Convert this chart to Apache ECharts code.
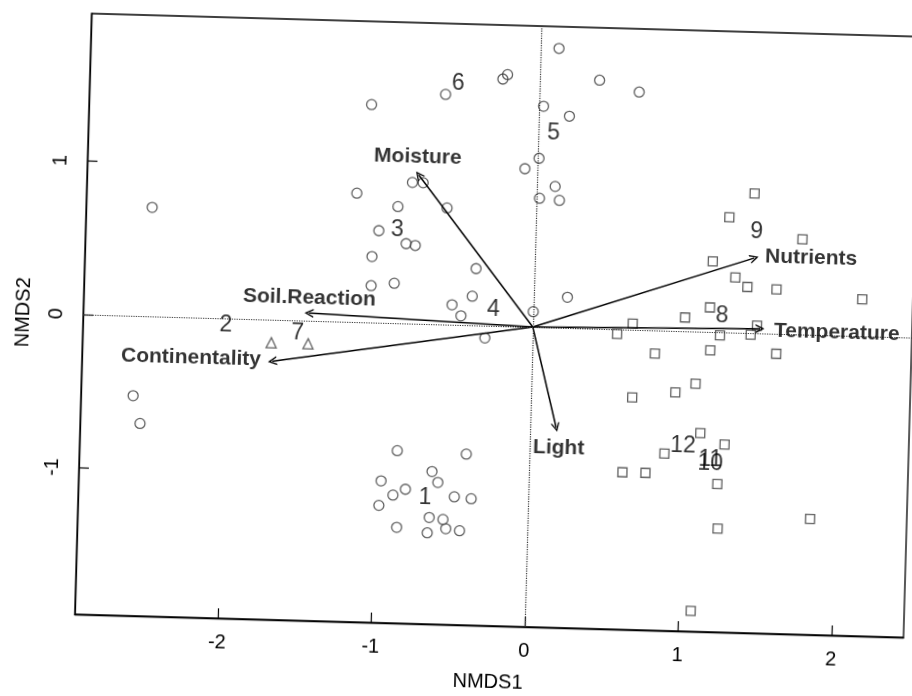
<!DOCTYPE html>
<html>
<head>
<meta charset="utf-8">
<script src="https://cdn.jsdelivr.net/npm/echarts@6/dist/echarts.min.js"></script>
<style>
  html, body { margin: 0; padding: 0; background: #fff; overflow: hidden; width: 912px; height: 696px; }
  #chart { position: absolute; left: 0; top: 0; width: 930px; height: 720px;
           transform-origin: 533px 327px; transform: rotate(1.6deg); }
</style>
</head>
<body>
<div id="chart"></div>
<script>
// ---- axis ticks ----
const xTicks = [-2, -1, 0, 1, 2];
const yTicks = [-1, 0, 1];

// ---- site scores (NMDS1, NMDS2) ----
const circleSites = [
  [0.12, 1.82], [-0.24, 1.61], [-0.21, 1.64], [0.39, 1.62], [0.65, 1.55], [-0.61, 1.50],
  [-1.09, 1.42], [0.03, 1.44], [0.20, 1.38], [0.01, 1.10], [-0.08, 1.03], [0.12, 0.92],
  [0.02, 0.84], [0.15, 0.83], [-1.17, 0.84], [-0.81, 0.92], [-0.74, 0.92], [-0.58, 0.76],
  [-0.90, 0.76], [-1.02, 0.60], [-0.84, 0.52], [-0.78, 0.51], [-1.06, 0.43], [-1.06, 0.24],
  [-0.91, 0.26], [-0.38, 0.37], [0.22, 0.20], [-0.40, 0.19], [-0.53, 0.13], [-0.47, 0.06],
  [-0.31, -0.08], [0.00, 0.10], [-2.50, 0.71], [-2.59, -0.52], [-2.54, -0.70],
  [-0.86, -0.83], [-0.41, -0.84], [-0.63, -0.96], [-0.59, -1.03], [-0.96, -1.03], [-0.88, -1.12],
  [-0.80, -1.08], [-0.97, -1.19], [-0.48, -1.12], [-0.37, -1.13], [-0.64, -1.26], [-0.55, -1.27],
  [-0.85, -1.33], [-0.65, -1.36], [-0.53, -1.33], [-0.44, -1.34]
];
const triangleSites = [[-1.70, -0.15], [-1.46, -0.15]];
const squareSites = [
  [1.42, 0.91], [1.26, 0.75], [1.74, 0.62], [1.16, 0.46], [1.31, 0.36], [1.39, 0.30],
  [1.58, 0.29], [2.14, 0.24], [0.99, 0.09], [1.15, 0.16], [0.65, 0.04], [0.55, -0.03],
  [1.22, -0.02], [1.46, 0.05], [1.42, -0.01], [0.80, -0.15], [1.16, -0.12], [1.59, -0.13],
  [1.07, -0.34], [0.94, -0.40], [0.66, -0.44], [1.11, -0.66], [1.27, -0.73], [0.88, -0.80],
  [0.61, -0.93], [0.76, -0.93], [1.23, -0.99], [1.84, -1.20], [1.24, -1.28], [1.08, -1.82]
];

// ---- environmental vectors ----
const vectorNames = ['Moisture', 'Soil.Reaction', 'Continentality', 'Light', 'Nutrients', 'Temperature'];
const vectorEnds = [[-0.77, 0.97], [-1.46, 0.05], [-1.69, -0.27], [0.17, -0.65], [1.43, 0.49], [1.48, 0.03]];
const vectorLabelPos = [[-0.78, 1.09], [-1.46, 0.15], [-2.22, -0.26], [0.19, -0.78], [1.80, 0.50], [1.98, 0.02]];

// ---- group centroid labels ----
const groupNames = ['1', '2', '3', '4', '5', '6', '7', '8', '9', '10', '11', '12'];
const groupPos = [[-0.67, -1.13], [-2.00, -0.04], [-0.90, 0.61], [-0.26, 0.11], [0.10, 1.27], [-0.53, 1.57],
                  [-1.53, -0.08], [1.23, 0.11], [1.44, 0.66], [1.18, -0.86], [1.18, -0.83], [1.00, -0.75]];

const FONT = 'Liberation Sans, Arial, Helvetica, sans-serif';
const chevron = 'path://M5,0 L10,10 L8.4,10 L5,3.2 L1.6,10 L0,10 Z';

const chart = echarts.init(document.getElementById('chart'), null, { renderer: 'canvas' });

const markerStyle = { color: 'rgba(0,0,0,0)', borderColor: '#3a3a3a', borderWidth: 1.3 };

chart.setOption({
  backgroundColor: '#fff',
  animation: false,
  grid: { left: 83, top: 26, width: 829, height: 601, show: true, borderColor: '#000', borderWidth: 1.3, backgroundColor: '#fff' },
  xAxis: {
    type: 'value', min: -2.93, max: 2.47,
    splitLine: { show: false },
    axisLine: { show: true, onZero: false, lineStyle: { color: '#000', width: 1.3 } },
    axisTick: { show: true, inside: true, length: 10, customValues: xTicks, lineStyle: { color: '#000', width: 1.2 } },
    axisLabel: { customValues: xTicks, fontSize: 20, color: '#000', margin: 14, fontFamily: FONT },
    name: 'NMDS1', nameLocation: 'middle', nameGap: 46,
    nameTextStyle: { fontSize: 20, color: '#000', fontFamily: FONT }
  },
  yAxis: {
    type: 'value', min: -1.955, max: 1.962,
    splitLine: { show: false },
    axisLine: { show: true, onZero: false, lineStyle: { color: '#000', width: 1.3 } },
    axisTick: { show: true, inside: true, length: 10, customValues: yTicks, lineStyle: { color: '#000', width: 1.2 } },
    axisLabel: { customValues: yTicks, fontSize: 20, color: '#000', margin: 17, rotate: 90, fontFamily: FONT },
    name: 'NMDS2', nameLocation: 'middle', nameGap: 50,
    nameTextStyle: { fontSize: 20, color: '#000', fontFamily: FONT }
  },
  series: [
    {
      type: 'scatter', name: 'circles', data: circleSites, symbol: 'circle', symbolSize: 10,
      itemStyle: markerStyle, z: 3,
      markLine: {
        silent: true, symbol: 'none', label: { show: false },
        lineStyle: { type: 'dotted', color: '#333', width: 1.2 },
        data: [{ xAxis: 0 }, { yAxis: 0 }]
      }
    },
    { type: 'scatter', name: 'triangles', data: triangleSites, symbol: 'triangle', symbolSize: 10, itemStyle: markerStyle, z: 3 },
    { type: 'scatter', name: 'squares', data: squareSites, symbol: 'rect', symbolSize: 9, itemStyle: markerStyle, z: 3 },
    {
      type: 'lines', coordinateSystem: 'cartesian2d', z: 4,
      symbol: ['none', chevron], symbolSize: [8, 9],
      lineStyle: { color: '#000', width: 1.5, curveness: 0, opacity: 1 },
      data: vectorEnds.map(e => ({ coords: [[0, 0], e] }))
    },
    {
      type: 'scatter', symbolSize: 0, z: 5, silent: true,
      data: vectorLabelPos.map((p, i) => ({ value: p, name: vectorNames[i] })),
      label: { show: true, position: 'inside', formatter: d => d.name, fontSize: 21, fontWeight: 'bold', color: '#000', fontFamily: FONT }
    },
    {
      type: 'scatter', symbolSize: 0, z: 5, silent: true,
      data: groupPos.map((p, i) => ({ value: p, name: groupNames[i] })),
      label: { show: true, position: 'inside', formatter: d => d.name, fontSize: 23, color: '#000', fontFamily: FONT }
    }
  ]
});
</script>
</body>
</html>
